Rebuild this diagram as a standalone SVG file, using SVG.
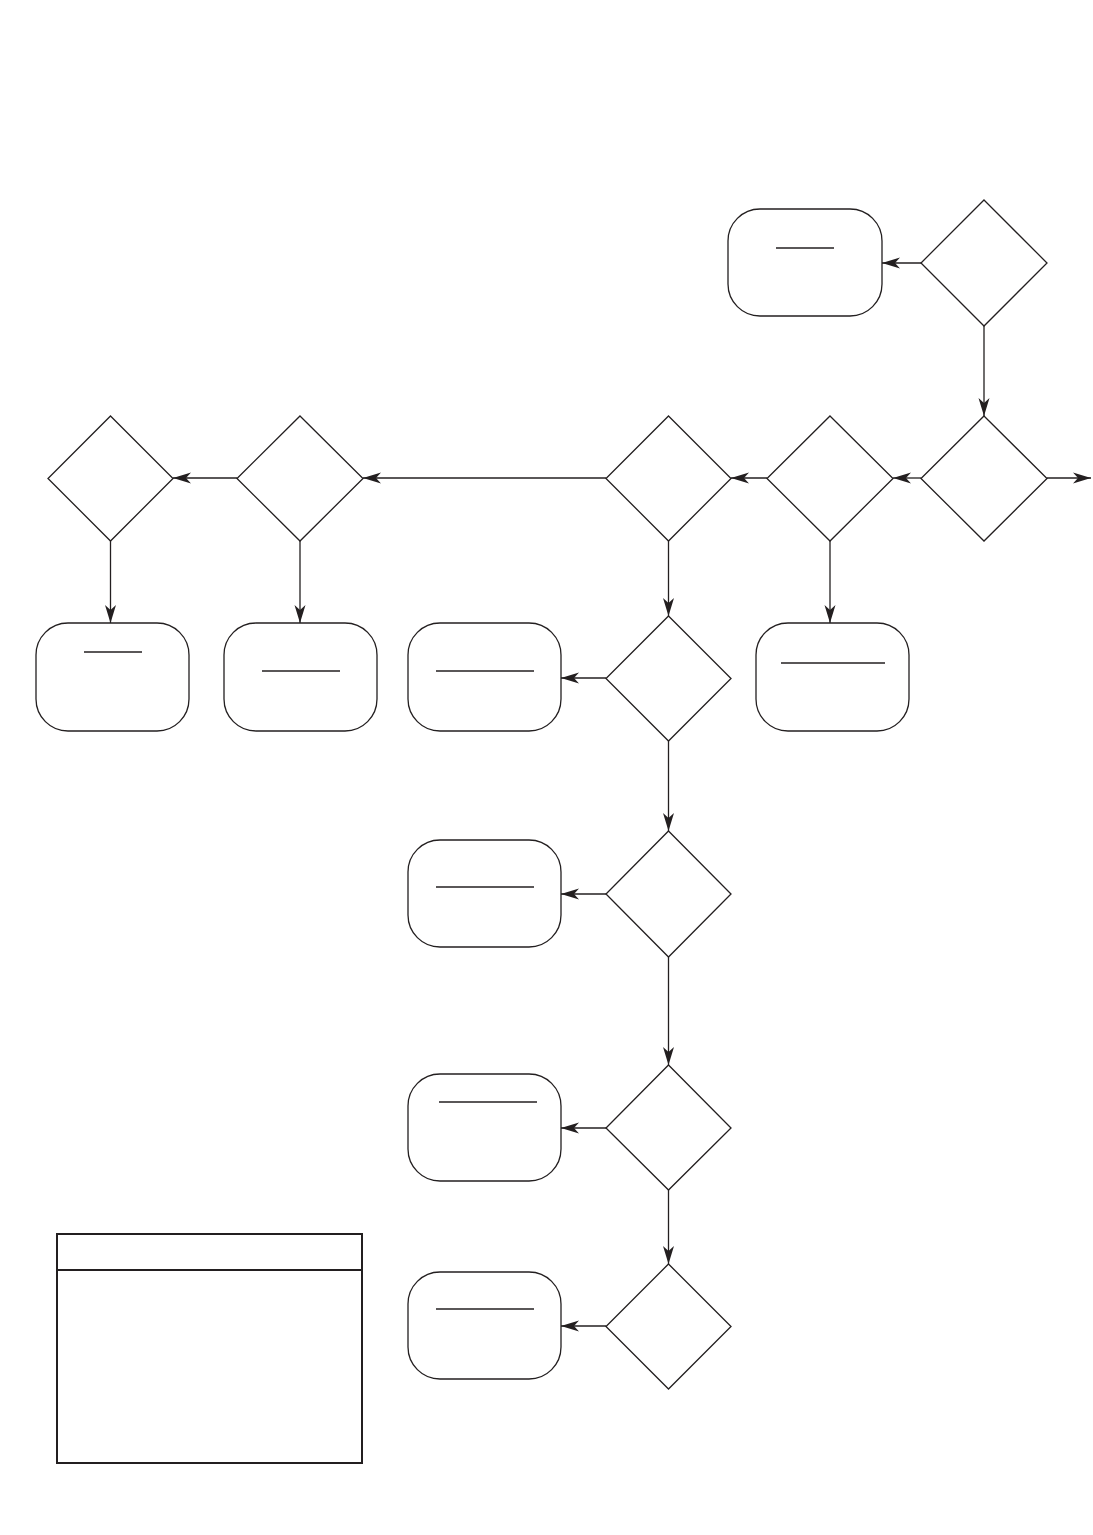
<svg xmlns="http://www.w3.org/2000/svg" width="1093" height="1535" viewBox="0 0 1093 1535">
<style>
.d{fill:#fff;stroke:#231f20;stroke-width:1.3}
.r{fill:#fff;stroke:#231f20;stroke-width:1.3}
.u{stroke:#231f20;stroke-width:1.3}
.c{fill:none;stroke:#231f20;stroke-width:1.3;marker-end:url(#ah)}
.t{fill:#fff;stroke:#231f20;stroke-width:2}
</style>
<defs>
<marker id="ah" markerUnits="userSpaceOnUse" markerWidth="20" markerHeight="12" viewBox="0 -6 18 12" refX="18" refY="0" orient="auto">
<path d="M0,-5.5 L18,0 L0,5.5 L5,0 z" fill="#231f20"/>
</marker>
</defs>
<rect width="1093" height="1535" fill="#fff"/>
<g id="connectors">
<line class="c" x1="921" y1="263" x2="882" y2="263"/>
<line class="c" x1="984" y1="326" x2="984" y2="416"/>
<line class="c" x1="1047" y1="478" x2="1091" y2="478"/>
<line class="c" x1="921" y1="478" x2="893" y2="478"/>
<line class="c" x1="767" y1="478" x2="731" y2="478"/>
<line class="c" x1="606" y1="478" x2="363" y2="478"/>
<line class="c" x1="237" y1="478" x2="173" y2="478"/>
<line class="c" x1="110.5" y1="541" x2="110.5" y2="623"/>
<line class="c" x1="300" y1="541" x2="300" y2="623"/>
<line class="c" x1="830" y1="541" x2="830" y2="623"/>
<line class="c" x1="668.5" y1="541" x2="668.5" y2="616"/>
<line class="c" x1="606" y1="678" x2="561" y2="678"/>
<line class="c" x1="668.5" y1="741" x2="668.5" y2="831"/>
<line class="c" x1="606" y1="894" x2="561" y2="894"/>
<line class="c" x1="668.5" y1="957" x2="668.5" y2="1065"/>
<line class="c" x1="606" y1="1128" x2="561" y2="1128"/>
<line class="c" x1="668.5" y1="1190" x2="668.5" y2="1264"/>
<line class="c" x1="606" y1="1326" x2="561" y2="1326"/>
</g>
<g id="d1"><polygon class="d" points="984,200 1047,263 984,326 921,263"/></g>
<g id="r1"><rect class="r" x="728" y="209" width="154" height="107" rx="32"/><line class="u" x1="776" y1="248" x2="834" y2="248"/></g>
<g id="d2"><polygon class="d" points="984,416 1047,478.5 984,541 921,478.5"/></g>
<g id="d3"><polygon class="d" points="830,416 893,478.5 830,541 767,478.5"/></g>
<g id="d4"><polygon class="d" points="668.5,416 731,478.5 668.5,541 606,478.5"/></g>
<g id="d5"><polygon class="d" points="300,416 363,478.5 300,541 237,478.5"/></g>
<g id="d6"><polygon class="d" points="110.5,416 173,478.5 110.5,541 48,478.5"/></g>
<g id="r6"><rect class="r" x="36" y="623" width="153" height="108" rx="32"/><line class="u" x1="84" y1="652" x2="142" y2="652"/></g>
<g id="r5"><rect class="r" x="224" y="623" width="153" height="108" rx="32"/><line class="u" x1="262" y1="671" x2="340" y2="671"/></g>
<g id="r3"><rect class="r" x="756" y="623" width="153" height="108" rx="32"/><line class="u" x1="781" y1="663" x2="885" y2="663"/></g>
<g id="d7"><polygon class="d" points="668.5,616 731,678.5 668.5,741 606,678.5"/></g>
<g id="r7"><rect class="r" x="408" y="623" width="153" height="108" rx="32"/><line class="u" x1="436" y1="671" x2="534" y2="671"/></g>
<g id="d8"><polygon class="d" points="668.5,831 731,894 668.5,957 606,894"/></g>
<g id="r8"><rect class="r" x="408" y="840" width="153" height="107" rx="32"/><line class="u" x1="436" y1="887" x2="534" y2="887"/></g>
<g id="d9"><polygon class="d" points="668.5,1065 731,1128 668.5,1190 606,1128"/></g>
<g id="r9"><rect class="r" x="408" y="1074" width="153" height="107" rx="32"/><line class="u" x1="439" y1="1102" x2="537" y2="1102"/></g>
<g id="d10"><polygon class="d" points="668.5,1264 731,1326.5 668.5,1389 606,1326.5"/></g>
<g id="r10"><rect class="r" x="408" y="1272" width="153" height="107" rx="32"/><line class="u" x1="436" y1="1309" x2="534" y2="1309"/></g>
<g id="table"><rect class="t" x="57" y="1234" width="305" height="229"/><line class="t" x1="57" y1="1270" x2="362" y2="1270"/></g>
</svg>
